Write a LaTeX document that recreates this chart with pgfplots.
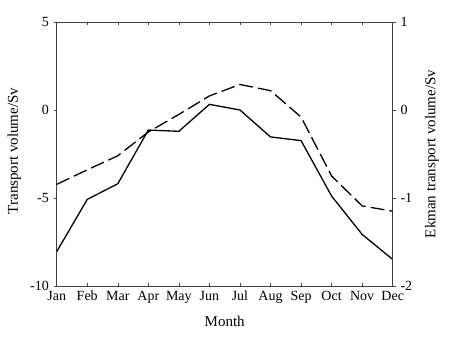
\documentclass[border=0pt]{standalone}
\usepackage{pgfplots}
\pgfplotsset{compat=1.18}
\usepackage{fontspec}
\setmainfont{Liberation Serif}
\pgfplotstableread{
x ts ek
0 -8.05 -0.845
1 -5.08 -0.68
2 -4.19 -0.52
3 -1.14 -0.25
4 -1.21 -0.05
5 0.32 0.16
6 0.00 0.29
7 -1.53 0.22
8 -1.74 -0.08
9 -4.89 -0.75
10 -7.07 -1.09
11 -8.49 -1.15
}\datatable
\pgfplotsset{
  every axis/.append style={
    tick label style={font=\fontsize{14}{16}\selectfont},
    label style={font=\fontsize{15}{17}\selectfont},
  }
}
\begin{document}
\fontsize{14}{16}\selectfont
\begin{tikzpicture}[x=1pt,y=1pt]
\useasboundingbox (-56.7,-57) rectangle (402.3,286);
\begin{axis}[
  at={(0,0)}, anchor=south west,
  scale only axis, width=336pt, height=264pt,
  xmin=0, xmax=11, ymin=-10, ymax=5,
  xtick={0,...,11},
  xticklabels={Jan,Feb,Mar,Apr,May,Jun,Jul,Aug,Sep,Oct,Nov,Dec},
  ytick={-10,-5,0,5},
  xtick pos=both, ytick pos=left,
  xtick align=inside, ytick align=outside,
  major tick length=3pt,
  tick style={black!70, line width=0.5pt},
  axis line style={black!75, line width=0.7pt},
  xticklabel style={yshift=0pt, inner xsep=0pt},
  xlabel={Month}, ylabel={Transport volume/Sv},
  xlabel style={at={(rel axis cs:0.5,0)}, anchor=center, yshift=-35pt},
  ylabel style={at={(rel axis cs:0,0.5)}, anchor=center, yshift=42.5pt, xshift=3pt},
  /pgf/number format/assume math mode=true,
]
\addplot[black, line width=1.3pt] table[x=x,y=ts]{\datatable};
\end{axis}
\begin{axis}[
  at={(0,0)}, anchor=south west,
  scale only axis, width=336pt, height=264pt,
  xmin=0, xmax=11, ymin=-2, ymax=1,
  axis x line=none,
  axis y line*=right,
  ytick={-2,-1,0,1},
  ytick align=outside,
  major tick length=3pt,
  tick style={black!70, line width=0.5pt},
  axis line style={black!75, line width=0.7pt},
  ylabel={Ekman transport volume/Sv},
  ylabel style={at={(rel axis cs:1,0.5)}, anchor=center, yshift=-39pt},
  /pgf/number format/assume math mode=true,
]
\addplot[black, line width=1.3pt, dash pattern=on 14pt off 5pt] table[x=x,y=ek]{\datatable};
\end{axis}
\end{tikzpicture}
\end{document}
